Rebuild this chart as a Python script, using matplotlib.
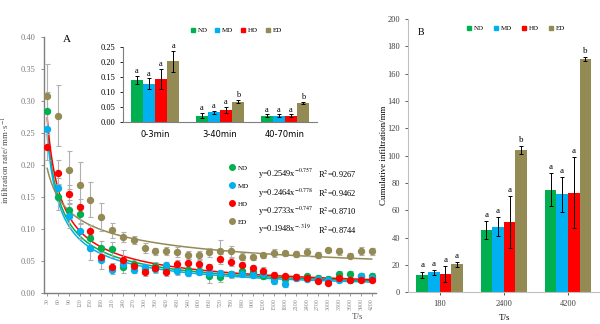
import matplotlib
matplotlib.use('Agg')
import matplotlib.pyplot as plt
import numpy as np
from matplotlib.lines import Line2D

plt.rcParams['font.family'] = ['Liberation Serif', 'DejaVu Serif']
plt.rcParams['mathtext.fontset'] = 'stix'

groups = ['ND', 'MD', 'HD', 'ED']
colors = {'ND': '#00B050', 'MD': '#00B0F0', 'HD': '#FF0000', 'ED': '#948A54'}

# panel A: infiltration rate over time
times = ['30', '60', '90', '120', '150', '180', '210', '240', '270', '300',
         '360', '420', '480', '540', '600', '660', '720', '780', '840', '900',
         '1200', '1500', '1800', '2100', '2400', '2700', '3000', '3300', '3600', '3900', '4200']
rate_nd = [0.284, 0.150, 0.130, 0.123, 0.086, 0.071, 0.068, 0.040, 0.046, 0.038,
           0.042, 0.039, 0.036, 0.036, 0.035, 0.027, 0.025, 0.029, 0.035, 0.033,
           0.027, 0.024, 0.022, 0.025, 0.026, 0.024, 0.022, 0.029, 0.029, 0.026, 0.027]
rate_md = [0.257, 0.164, 0.121, 0.097, 0.071, 0.052, 0.036, 0.046, 0.036, 0.041,
           0.037, 0.043, 0.035, 0.032, 0.033, 0.032, 0.031, 0.030, 0.030, 0.028,
           0.029, 0.018, 0.014, 0.023, 0.022, 0.022, 0.021, 0.021, 0.020, 0.027, 0.024]
rate_hd = [0.228, 0.188, 0.154, 0.135, 0.097, 0.056, 0.041, 0.052, 0.042, 0.033,
           0.039, 0.033, 0.046, 0.047, 0.045, 0.040, 0.053, 0.048, 0.043, 0.039,
           0.035, 0.028, 0.026, 0.025, 0.024, 0.019, 0.016, 0.024, 0.021, 0.021, 0.021]
rate_ed = [0.308, 0.277, 0.192, 0.169, 0.146, 0.119, 0.098, 0.087, 0.083, 0.070,
           0.065, 0.066, 0.064, 0.059, 0.059, 0.064, 0.066, 0.065, 0.057, 0.057,
           0.059, 0.063, 0.062, 0.061, 0.064, 0.059, 0.067, 0.065, 0.058, 0.066, 0.065]
err_nd = [0.030, 0.020, 0.015, 0.015, 0.020, 0.010, 0.012, 0.008, 0.006, 0.006,
          0.006, 0.006, 0.008, 0.007, 0.006, 0.012, 0.008, 0.006, 0.006, 0.006,
          0.005, 0.005, 0.005, 0.005, 0.004, 0.004, 0.004, 0.006, 0.006, 0.005, 0.005]
err_md = [0.025, 0.015, 0.020, 0.012, 0.020, 0.015, 0.006, 0.006, 0.005, 0.005,
          0.005, 0.006, 0.006, 0.005, 0.005, 0.005, 0.005, 0.005, 0.004, 0.004,
          0.004, 0.004, 0.004, 0.004, 0.004, 0.004, 0.004, 0.004, 0.004, 0.004, 0.004]
err_hd = [0.020, 0.020, 0.015, 0.012, 0.010, 0.008, 0.006, 0.015, 0.006, 0.006,
          0.006, 0.006, 0.006, 0.006, 0.006, 0.006, 0.008, 0.006, 0.005, 0.005,
          0.005, 0.005, 0.004, 0.004, 0.004, 0.004, 0.004, 0.004, 0.004, 0.004, 0.004]
err_ed = [0.050, 0.048, 0.030, 0.035, 0.028, 0.022, 0.012, 0.008, 0.006, 0.008,
          0.006, 0.006, 0.008, 0.006, 0.006, 0.007, 0.017, 0.008, 0.006, 0.006,
          0.004, 0.006, 0.004, 0.004, 0.006, 0.005, 0.003, 0.006, 0.004, 0.006, 0.006]
rates = {'ND': rate_nd, 'MD': rate_md, 'HD': rate_hd, 'ED': rate_ed}
rate_errs = {'ND': err_nd, 'MD': err_md, 'HD': err_hd, 'ED': err_ed}

fit_a = {'ND': 0.2549, 'MD': 0.2464, 'HD': 0.2733, 'ED': 0.1948}
fit_b = {'ND': -0.757, 'MD': -0.778, 'HD': -0.747, 'ED': -0.379}
fit_b_text = {'ND': '-0.757', 'MD': '-0.778', 'HD': '-0.747', 'ED': '-.319'}
fit_r2 = {'ND': '0.9267', 'MD': '0.9462', 'HD': '0.8710', 'ED': '0.8744'}

# inset: mean rate per period
periods = ['0-3min', '3-40min', '40-70min']
period_vals = {'ND': [0.140, 0.020, 0.019], 'MD': [0.127, 0.031, 0.020],
               'HD': [0.142, 0.038, 0.020], 'ED': [0.202, 0.066, 0.062]}
period_errs = {'ND': [0.013, 0.008, 0.005], 'MD': [0.017, 0.005, 0.004],
               'HD': [0.033, 0.010, 0.004], 'ED': [0.035, 0.005, 0.004]}
period_letters = {'ND': ['a', 'a', 'a'], 'MD': ['a', 'a', 'a'],
                  'HD': ['a', 'a', 'a'], 'ED': ['a', 'b', 'b']}

# panel B: cumulative infiltration
cum_times = ['180', '2400', '4200']
cum_vals = {'ND': [12.7, 45.6, 75.0], 'MD': [14.6, 48.0, 71.7],
            'HD': [13.2, 51.7, 72.9], 'ED': [20.5, 104.0, 171.0]}
cum_errs = {'ND': [2.5, 6.5, 12.0], 'MD': [2.0, 7.0, 13.0],
            'HD': [6.0, 19.0, 26.0], 'ED': [2.0, 3.0, 1.5]}
cum_letters = {'ND': ['a', 'a', 'a'], 'MD': ['a', 'a', 'a'],
               'HD': ['a', 'a', 'a'], 'ED': ['a', 'b', 'b']}

grey = '#7f7f7f'
fig = plt.figure(figsize=(6, 3.24), dpi=100)

# ---- panel A ----
ax = fig.add_axes([0.0733, 0.0957, 0.5533, 0.790])
x = np.arange(len(times))
for g in groups:
    ax.errorbar(x, rates[g], yerr=rate_errs[g], fmt='o', color=colors[g], ms=4.3,
                ecolor='#b0b0b0', elinewidth=0.8, capsize=1.8, capthick=0.8, zorder=3)
xf = np.linspace(1, len(times), 300)
for g in groups:
    ax.plot(xf - 1, fit_a[g] * xf ** fit_b[g], color=colors[g], lw=1.1, zorder=2)

ax.set_xlim(-0.3, 30.4)
ax.set_ylim(0, 0.40)
ax.set_yticks(np.arange(0, 0.401, 0.05))
ax.set_yticklabels(['%.2f' % v for v in np.arange(0, 0.401, 0.05)])
ax.set_xticks(x)
ax.set_xticklabels(times, rotation=90, fontsize=4.2)
ax.tick_params(axis='y', labelsize=6, colors='#7a7a7a', length=2.5, width=0.6)
ax.tick_params(axis='x', colors='#8a8a8a', length=2, width=0.6, pad=1.5)
for s in ['top', 'right']:
    ax.spines[s].set_visible(False)
for s in ['left', 'bottom']:
    ax.spines[s].set_color(grey)
    ax.spines[s].set_linewidth(1.0)
ax.set_ylabel('infiltration rate/ mm·s$^{-1}$', fontsize=6.5, color='#505050')
ax.yaxis.set_label_coords(-0.096, 0.52)
ax.text(0.945, -0.095, 'T/s', transform=ax.transAxes, fontsize=6.5, ha='center', va='center', color='#505050')
ax.text(0.069, 0.99, 'A', transform=ax.transAxes, fontsize=8, ha='center', va='center')

handles = [Line2D([], [], marker='o', ls='', color=colors[g], ms=4) for g in groups]
ax.legend(handles, groups, loc='upper left', bbox_to_anchor=(0.555, 0.50), frameon=False,
          fontsize=5, labelspacing=1.75, handletextpad=0.4, handlelength=1.0,
          borderpad=0, borderaxespad=0)
rows = [0.465, 0.391, 0.318, 0.246]
for g, yr in zip(groups, rows):
    ax.text(0.645, yr, 'y=%.4fx$^{%s}$' % (fit_a[g], fit_b_text[g]), transform=ax.transAxes,
            fontsize=6, va='center')
    ax.text(0.825, yr, 'R$^{2}$=%s' % fit_r2[g], transform=ax.transAxes, fontsize=6, va='center')

# ---- inset ----
axi = fig.add_axes([0.2045, 0.6244, 0.3238, 0.2315])
w = 0.186
xp = np.arange(len(periods))
for i, g in enumerate(groups):
    pos = xp + (i - 1.5) * w
    axi.bar(pos, period_vals[g], w, color=colors[g], yerr=period_errs[g],
            error_kw=dict(ecolor='black', elinewidth=0.7, capsize=1.5, capthick=0.7))
    for p, v, e, t in zip(pos, period_vals[g], period_errs[g], period_letters[g]):
        axi.text(p, v + e + 0.003, t, ha='center', va='bottom', fontsize=6)
axi.set_xlim(-0.5, 2.5)
axi.set_ylim(0, 0.25)
axi.set_yticks(np.arange(0, 0.251, 0.05))
axi.set_yticklabels(['%.2f' % v for v in np.arange(0, 0.251, 0.05)])
axi.set_xticks(xp)
axi.set_xticklabels(periods, fontsize=6, family='DejaVu Sans')
axi.tick_params(axis='y', labelsize=6, length=2, width=0.6)
axi.tick_params(axis='x', length=0, pad=6)
for s in ['top', 'right']:
    axi.spines[s].set_visible(False)
for s in ['left', 'bottom']:
    axi.spines[s].set_color(grey)
    axi.spines[s].set_linewidth(0.8)
sq = [Line2D([], [], marker='s', ls='', color=colors[g], ms=3.5) for g in groups]
axi.legend(sq, groups, loc='center', bbox_to_anchor=(0.58, 1.22), ncol=4, frameon=False,
           fontsize=5, handletextpad=0.2, handlelength=1.0, columnspacing=0.9,
           borderpad=0, borderaxespad=0)

# ---- panel B ----
axr = fig.add_axes([0.6792, 0.0978, 0.3208, 0.8435])
wb = 0.181
xc = np.arange(len(cum_times))
for i, g in enumerate(groups):
    pos = xc + (i - 1.5) * wb
    axr.bar(pos, cum_vals[g], wb, color=colors[g], yerr=cum_errs[g],
            error_kw=dict(ecolor='black', elinewidth=0.7, capsize=1.5, capthick=0.7))
    for p, v, e, t in zip(pos, cum_vals[g], cum_errs[g], cum_letters[g]):
        axr.text(p, v + e + 1.5, t, ha='center', va='bottom', fontsize=6.5)
axr.set_xlim(-0.5, 2.5)
axr.set_ylim(0, 200)
axr.set_yticks(np.arange(0, 201, 20))
axr.set_xticks(xc)
axr.set_xticklabels(cum_times)
axr.tick_params(axis='both', labelsize=6, length=2, width=0.6, colors='#404040')
for s in ['top', 'right']:
    axr.spines[s].set_visible(False)
for s in ['left', 'bottom']:
    axr.spines[s].set_color('#bfbfbf')
    axr.spines[s].set_linewidth(0.8)
axr.set_ylabel('Cumulative infiltration/mm', fontsize=6.5)
axr.yaxis.set_label_coords(-0.10, 0.5)
axr.text(0.506, -0.094, 'T/s', transform=axr.transAxes, fontsize=6.5, ha='center', va='center')
axr.text(0.07, 0.95, 'B', transform=axr.transAxes, fontsize=7, ha='center', va='center')
axr.legend(sq, groups, loc='center', bbox_to_anchor=(0.56, 0.967), ncol=4, frameon=False,
           fontsize=5, handletextpad=0.2, handlelength=1.0, columnspacing=1.2,
           borderpad=0, borderaxespad=0)

fig.savefig('out.png', dpi=100)
